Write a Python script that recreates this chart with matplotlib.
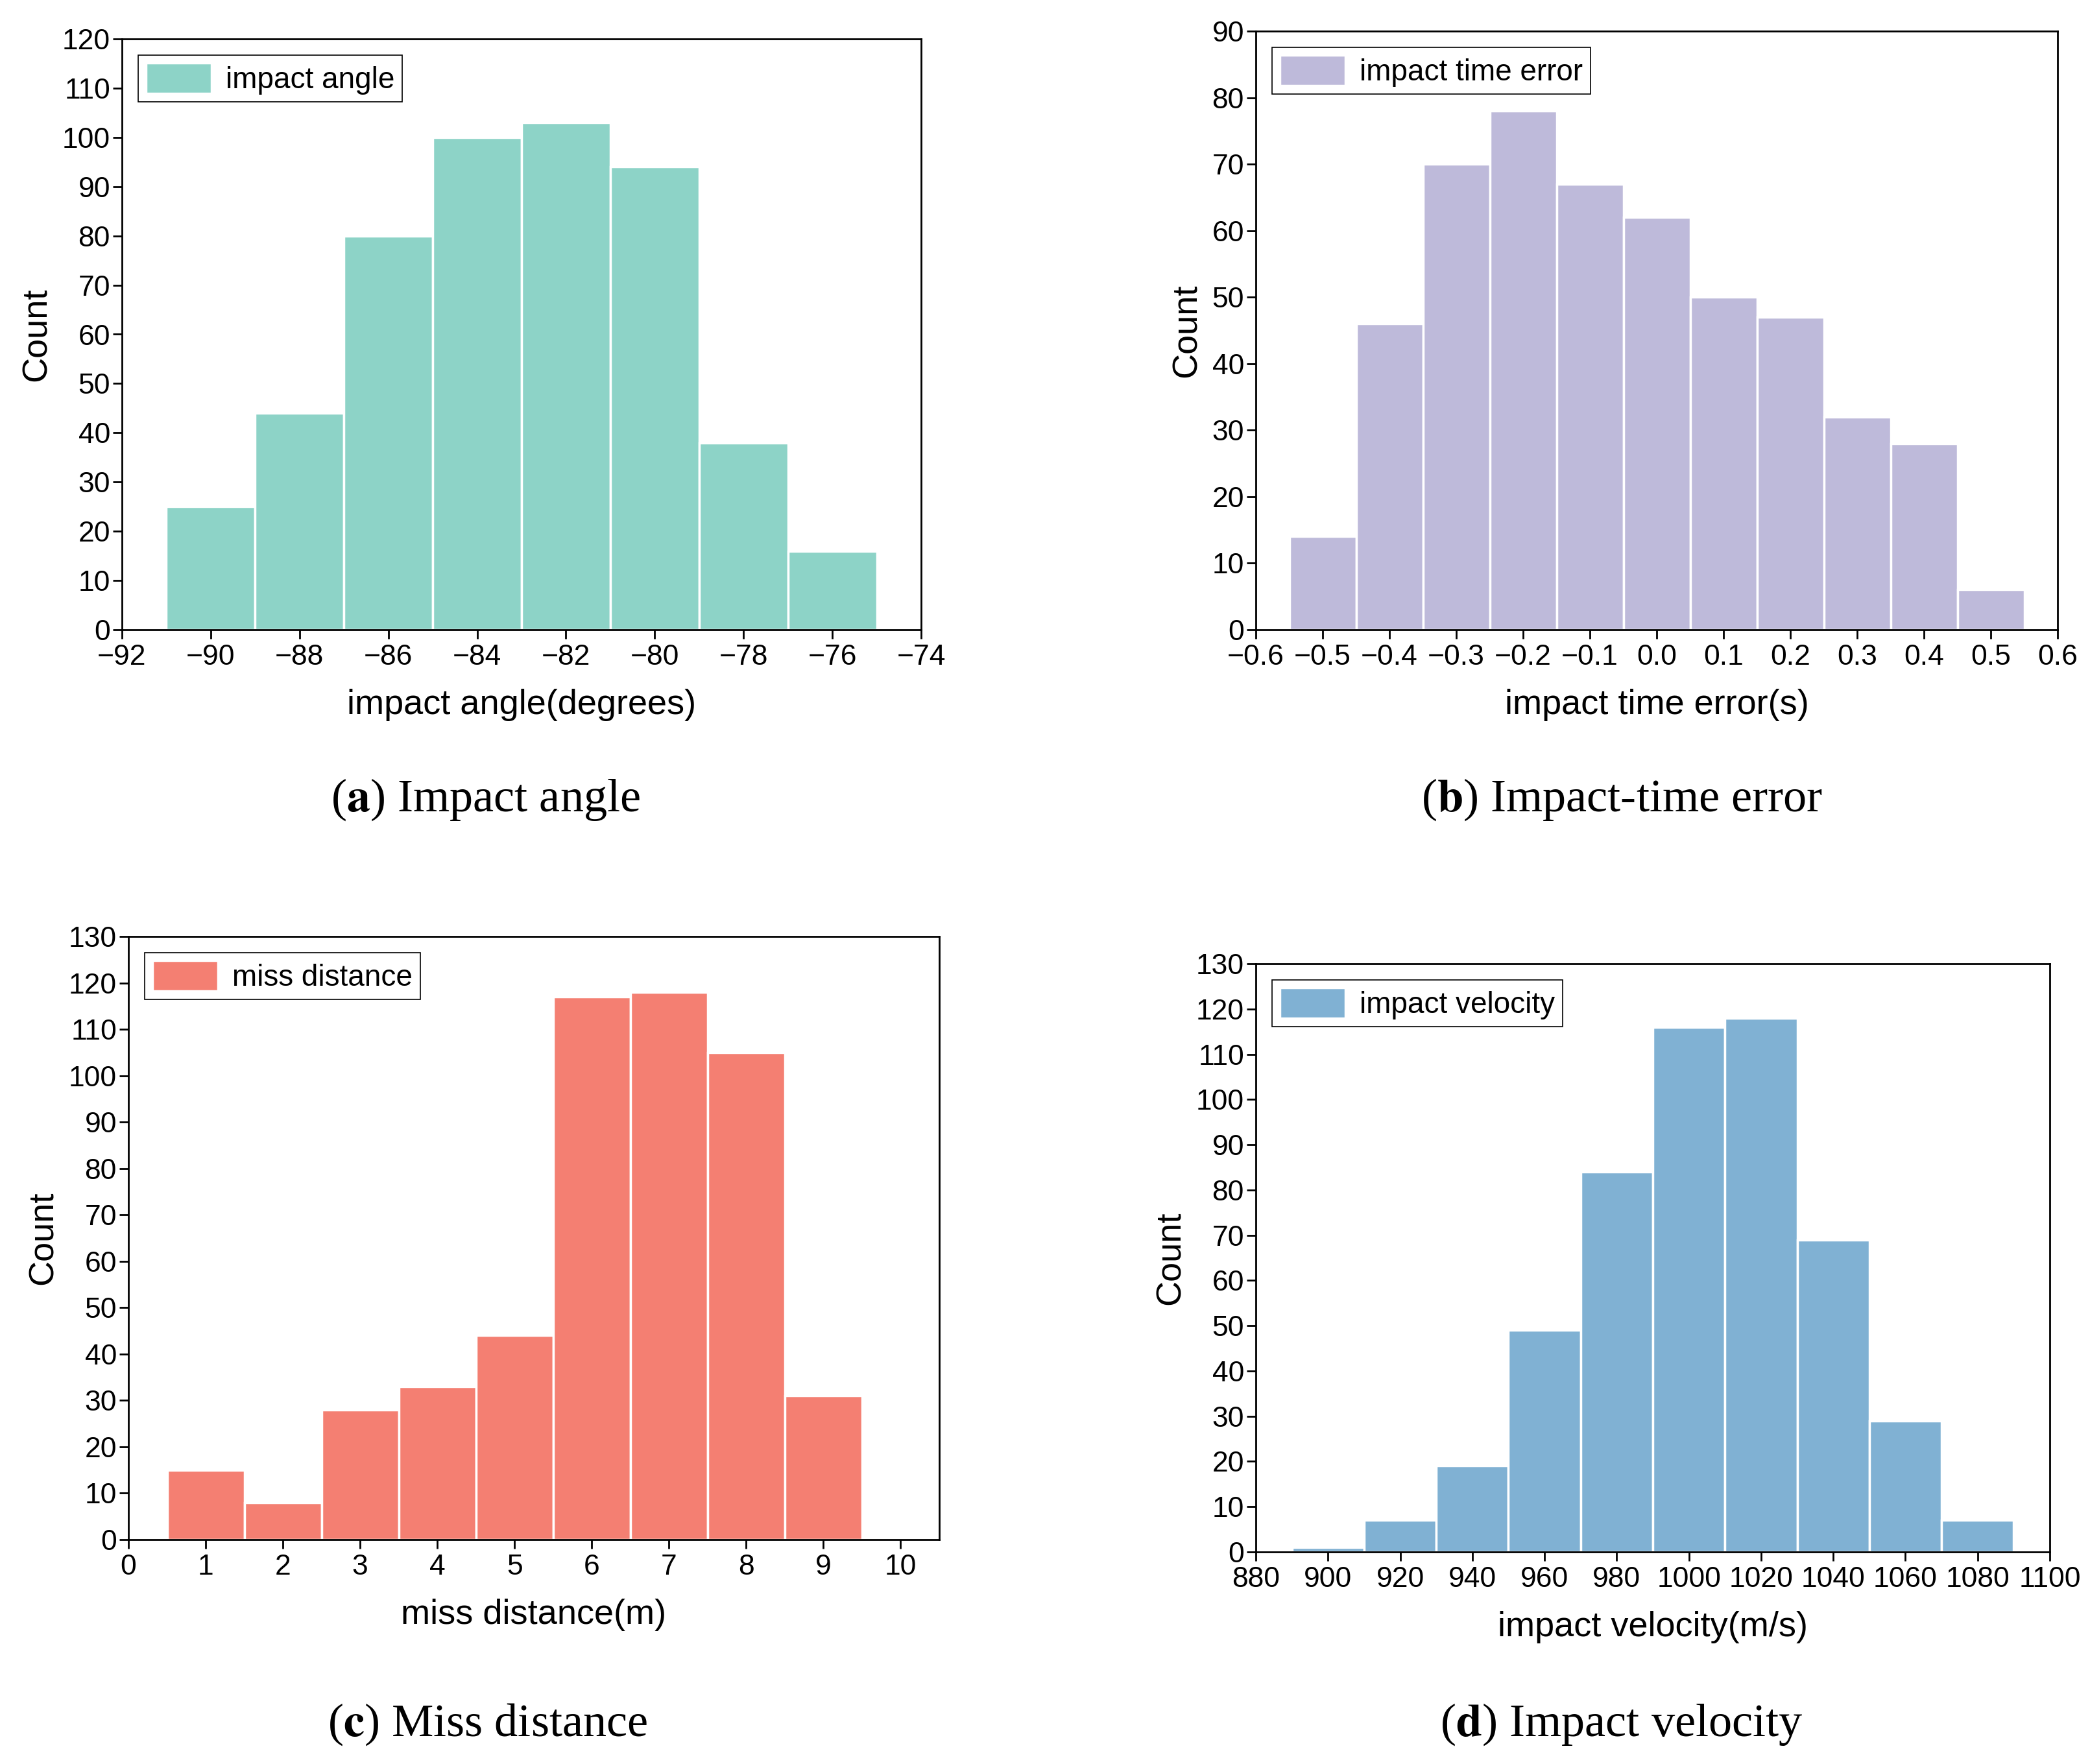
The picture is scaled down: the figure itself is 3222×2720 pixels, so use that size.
import numpy as np
import matplotlib
matplotlib.use("Agg")
import matplotlib.pyplot as plt

plt.rcParams['font.family'] = ['Liberation Sans', 'DejaVu Sans']

# histogram data (bin centres and counts)
angle_centers = [-90, -88, -86, -84, -82, -80, -78, -76]
angle_counts = [25, 44, 80, 100, 103, 94, 38, 16]

time_centers = [-0.5, -0.4, -0.3, -0.2, -0.1, 0.0, 0.1, 0.2, 0.3, 0.4, 0.5]
time_counts = [14, 46, 70, 78, 67, 62, 50, 47, 32, 28, 6]

miss_centers = [1, 2, 3, 4, 5, 6, 7, 8, 9, 10]
miss_counts = [15, 8, 28, 33, 44, 117, 118, 105, 31, 0]

vel_centers = [900, 920, 940, 960, 980, 1000, 1020, 1040, 1060, 1080]
vel_counts = [1, 7, 19, 49, 84, 116, 118, 69, 29, 7]

W, H = 3223, 2720
fig = plt.figure(figsize=(W / 100, H / 100), dpi=100)


def px_axes(x0, y0, x1, y1):
    # pixel box (top-left origin) -> figure fraction
    return fig.add_axes([x0 / W, 1 - y1 / H, (x1 - x0) / W, (y1 - y0) / H])


def draw(ax, centers, counts, width, color, label, xlim, xticks, ylim, yticks,
         xlabel, xfmt):
    ax.bar(centers, counts, width=width, color=color, edgecolor='white',
           linewidth=2.5, label=label)
    ax.set_xlim(*xlim)
    ax.set_ylim(*ylim)
    ax.set_xticks(xticks)
    ax.set_xticklabels([xfmt(t).replace('-', '\u2212') for t in xticks])
    ax.set_yticks(yticks)
    ax.tick_params(axis='both', direction='out', length=10, width=2,
                   labelsize=32)
    ax.tick_params(axis='x', pad=6)
    ax.tick_params(axis='y', pad=3)
    for s in ax.spines.values():
        s.set_linewidth(2)
    ax.set_xlabel(xlabel, fontsize=39, labelpad=20)
    ax.set_ylabel('Count', fontsize=39, labelpad=10)
    leg = ax.legend(loc='upper left', fontsize=33, fancybox=False,
                    edgecolor='black', framealpha=1, borderaxespad=0.55,
                    handlelength=2.2, handleheight=1.2, handletextpad=0.5,
                    borderpad=0.25)
    leg.get_frame().set_linewidth(1.2)


ax_a = px_axes(188, 60, 1420, 971)
draw(ax_a, angle_centers, angle_counts, 2, '#8DD3C7', 'impact angle',
     (-92, -74), np.arange(-92, -73, 2), (0, 120), np.arange(0, 121, 10),
     'impact angle(degrees)', lambda t: f'{t:d}')

ax_b = px_axes(1936, 48, 3172, 971)
draw(ax_b, time_centers, time_counts, 0.1, '#BEBADA', 'impact time error',
     (-0.6, 0.6), np.round(np.arange(-0.6, 0.61, 0.1), 1), (0, 90),
     np.arange(0, 91, 10), 'impact time error(s)',
     lambda t: f'{t:.1f}' if abs(t) > 1e-9 else '0.0')

ax_c = px_axes(198, 1444, 1448, 2374)
draw(ax_c, miss_centers, miss_counts, 1, '#F47F72', 'miss distance',
     (0, 10.5), np.arange(0, 11, 1), (0, 130), np.arange(0, 131, 10),
     'miss distance(m)', lambda t: f'{t:d}')

ax_d = px_axes(1936, 1486, 3160, 2393)
draw(ax_d, vel_centers, vel_counts, 20, '#80B1D3', 'impact velocity',
     (880, 1100), np.arange(880, 1101, 20), (0, 130), np.arange(0, 131, 10),
     'impact velocity(m/s)', lambda t: f'{t:d}')

captions = [(748, 1233, 'a', 'Impact angle'),
            (2500, 1233, 'b', 'Impact-time error'),
            (752, 2659, 'c', 'Miss distance'),
            (2500, 2659, 'd', 'Impact velocity')]
for cx, cy, letter, text in captions:
    fig.text(cx / W, 1 - cy / H,
             '(' + r'$\mathbf{' + letter + '}$' + ') ' + text,
             ha='center', va='center', fontsize=52,
             family='Liberation Serif', math_fontfamily='stix')

fig.savefig('out.png', dpi=100)
